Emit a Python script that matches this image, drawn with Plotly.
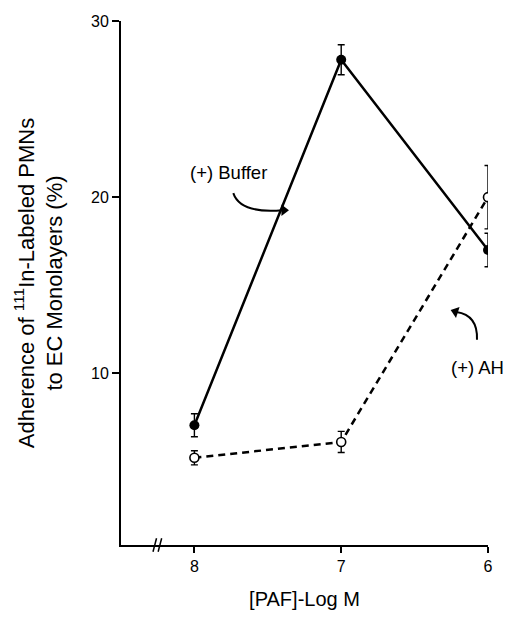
import plotly.graph_objects as go

# PAF concentration (-log M) and PMN adherence (%)
paf_log_m = [8, 7, 6]
buffer_mean = [7.05, 27.8, 17.0]
buffer_err = [0.65, 0.85, 0.95]
ah_mean = [5.2, 6.1, 20.0]
ah_err = [0.4, 0.6, 1.8]

x_ticks = [8, 7, 6]
y_ticks = [10, 20, 30]

FONT = "Liberation Sans, Arial, Helvetica, sans-serif"

fig = go.Figure()

# (+) AH : open circles, dashed line
fig.add_trace(go.Scatter(
    x=paf_log_m, y=ah_mean, mode="lines+markers",
    line=dict(color="black", width=2.5, dash="7px,5px"),
    marker=dict(symbol="circle", size=9, color="white",
                line=dict(color="black", width=1.6)),
    error_y=dict(type="data", array=ah_err, visible=True,
                 color="black", thickness=1.4, width=3.5),
    showlegend=False,
))

# (+) Buffer : filled circles, solid line
fig.add_trace(go.Scatter(
    x=paf_log_m, y=buffer_mean, mode="lines+markers",
    line=dict(color="black", width=2.5),
    marker=dict(symbol="circle", size=10, color="black"),
    error_y=dict(type="data", array=buffer_err, visible=True,
                 color="black", thickness=1.4, width=3.5),
    showlegend=False,
))

# curved pointer lines for the two labels
fig.add_shape(type="path", xref="x", yref="y",
              path="M 7.735,20.23 Q 7.687,19.05 7.40,19.26",
              line=dict(color="black", width=2))
fig.add_shape(type="path", xref="x", yref="y",
              path="M 6.075,11.9 Q 6.068,13.3 6.215,13.48",
              line=dict(color="black", width=2))

# arrowheads at the ends of the pointer lines
fig.add_trace(go.Scatter(
    x=[7.39, 6.222], y=[19.26, 13.5], mode="markers",
    marker=dict(symbol=["triangle-right", "triangle-left"], size=10,
                angle=[0, 18], color="black"),
    hoverinfo="skip", showlegend=False,
))

# axis break marks
for xb in (8.27, 8.235):
    fig.add_shape(type="line", xref="x", yref="paper",
                  x0=xb + 0.012, y0=-0.013, x1=xb - 0.012, y1=0.013,
                  line=dict(color="black", width=1.5))

annotations = [
    dict(x=7.77, y=21.4, text="(+) Buffer", showarrow=False,
         font=dict(size=18.5)),
    dict(x=6.07, y=10.35, text="(+) AH", showarrow=False,
         font=dict(size=18.5)),
]

fig.update_layout(
    width=507, height=619,
    margin=dict(l=121, r=19, t=21, b=74),
    paper_bgcolor="white", plot_bgcolor="white",
    font=dict(family=FONT, color="black"),
    annotations=annotations,
    xaxis=dict(range=[8.5, 6], tickvals=x_ticks, ticktext=[str(v) for v in x_ticks],
               showgrid=False, zeroline=False, showline=True, linecolor="black",
               linewidth=2, ticks="outside", ticklen=6, tickwidth=2,
               tickcolor="black", tickfont=dict(size=16),
               title=dict(text="[PAF]-Log M", font=dict(size=20), standoff=18)),
    yaxis=dict(range=[0.25, 30], tickvals=y_ticks, ticktext=[str(v) for v in y_ticks],
               showgrid=False, zeroline=False, showline=True, linecolor="black",
               linewidth=2, ticks="outside", ticklen=7, tickwidth=2,
               tickcolor="black", tickfont=dict(size=16),
               title=dict(text="Adherence of <sup>111</sup>In-Labeled PMNs<br>to EC Monolayers (%)",
                          font=dict(size=22), standoff=22)),
)

fig.write_html("out.html")
